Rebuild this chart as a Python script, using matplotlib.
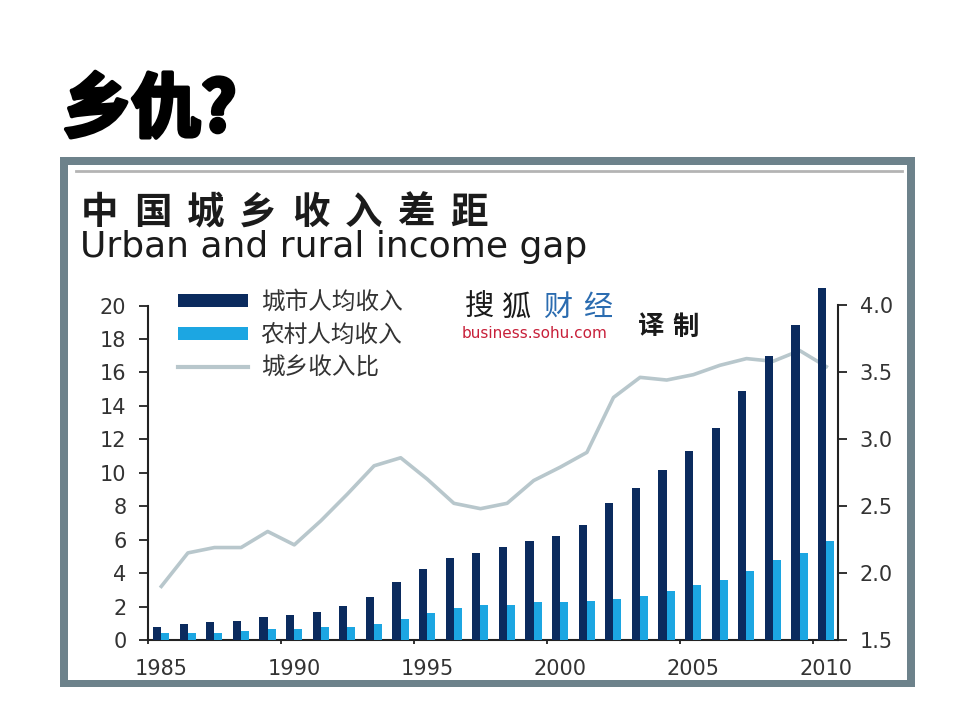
import matplotlib
matplotlib.use('Agg')
import matplotlib.pyplot as plt
import matplotlib.patheffects as pe
from matplotlib.patches import Rectangle, Patch
from matplotlib.lines import Line2D

plt.rcParams['font.family'] = ['DejaVu Sans', 'Noto Sans CJK SC']

# data (income in thousand yuan, ratio urban/rural)
years = list(range(1985, 2011))
urban = [0.75, 0.96, 1.09, 1.15, 1.39, 1.49, 1.69, 2.01, 2.55, 3.49,
         4.24, 4.90, 5.18, 5.54, 5.94, 6.24, 6.90, 8.17, 9.09, 10.17,
         11.32, 12.68, 14.91, 17.00, 18.84, 21.05]
rural = [0.42, 0.42, 0.42, 0.56, 0.64, 0.64, 0.75, 0.75, 0.96, 1.26,
         1.59, 1.89, 2.10, 2.11, 2.25, 2.25, 2.35, 2.43, 2.65, 2.95,
         3.31, 3.61, 4.14, 4.78, 5.18, 5.94]
ratio = [1.90, 2.15, 2.19, 2.19, 2.31, 2.21, 2.39, 2.59, 2.80, 2.86,
         2.70, 2.52, 2.48, 2.52, 2.69, 2.79, 2.90, 3.31, 3.46, 3.44,
         3.48, 3.55, 3.60, 3.58, 3.66, 3.54]
left_ticks = list(range(0, 21, 2))
right_ticks = [1.5, 2.0, 2.5, 3.0, 3.5, 4.0]
year_ticks = list(range(1985, 2011, 5))
labels = ['城市人均收入', '农村人均收入', '城乡收入比']

navy = '#0b2b5e'
light = '#1ca6e2'
grey_line = '#b8c7cc'
txt = '#333333'
W, H = 960, 720


def fx(x):
    return x / W


def fy(y):
    return 1 - y / H


fig = plt.figure(figsize=(9.6, 7.2), dpi=100)

# frame around the chart (kept below the axes)
fig.patches.append(Rectangle((fx(60), fy(687)), 855 / W, 530 / H, transform=fig.transFigure,
                             facecolor='#6d828b', edgecolor='none', zorder=-3))
fig.patches.append(Rectangle((fx(68), fy(680)), 839 / W, 515 / H, transform=fig.transFigure,
                             facecolor='white', edgecolor='none', zorder=-2))
fig.lines.append(Line2D([fx(76), fx(902)], [fy(171), fy(171)], transform=fig.transFigure,
                        color='#b4b4b4', lw=2, zorder=-1))

# big heading
fig.text(fx(62), fy(111), '乡仇?', fontsize=50, family='Noto Sans CJK SC', weight='heavy',
         va='center', color='black',
         path_effects=[pe.withStroke(linewidth=3, foreground='black')])

# chart titles
for i, ch in enumerate('中国城乡收入差距'):
    fig.text(fx(100 + i * 52.7), fy(212), ch, fontsize=27, family='Noto Sans CJK SC',
             weight='bold', ha='center', va='center', color='#1b1b1b')
fig.text(fx(80), fy(257), 'Urban and rural income gap', fontsize=26, va='baseline', color='#1b1b1b')

# sohu logo
for ch, cx, col in zip('搜狐财经', [479, 516, 559, 598], ['#1a1a1a', '#1a1a1a', '#2b6cb0', '#2b6cb0']):
    fig.text(fx(cx), fy(308), ch, fontsize=21, family='Noto Sans CJK SC', ha='center', va='center', color=col)
fig.text(fx(462), fy(334), 'business.sohu.com', fontsize=11, va='center', color='#c8203a')
for ch, cx in zip('译制', [651, 686]):
    fig.text(fx(cx), fy(327), ch, fontsize=19, family='Noto Sans CJK SC', weight='bold',
             ha='center', va='center', color='#1a1a1a')

# axes
ax = fig.add_axes([fx(148), 80 / H, 690 / W, 359.5 / H])
ax.set_xlim(1985, 1985 + 690 / 26.6)
ax.set_ylim(0, 21.5)
ax2 = ax.twinx()
ax2.set_ylim(1.5, 1.5 + 359.5 / 134)

ax.bar([y + 0.34 for y in years], urban, width=0.31, color=navy, clip_on=False, zorder=3)
ax.bar([y + 0.645 for y in years], rural, width=0.3, color=light, clip_on=False, zorder=3)
ax2.plot([y + 0.5 for y in years], ratio, color=grey_line, lw=2.6)

ax.set_zorder(ax2.get_zorder() + 1)
ax.patch.set_visible(False)

for s in ['top', 'right']:
    ax.spines[s].set_visible(False)
for s in ['top', 'left', 'bottom']:
    ax2.spines[s].set_visible(False)
ax.spines['left'].set_bounds(0, 20)
ax2.spines['right'].set_bounds(1.5, 4.0)
for sp in [ax.spines['left'], ax.spines['bottom'], ax2.spines['right']]:
    sp.set_linewidth(1.5)
    sp.set_color('#222222')

ax.set_yticks(left_ticks)
ax.tick_params(axis='y', direction='out', length=6.5, width=1.3, pad=9, labelsize=15,
               labelcolor=txt, color='#222222')
ax2.set_yticks(right_ticks)
ax2.set_yticklabels(['%.1f' % v for v in right_ticks])
ax2.tick_params(axis='y', direction='out', length=6.5, width=1.3, pad=9, labelsize=15,
                labelcolor=txt, color='#222222')

ax.set_xticks(year_ticks)
ax.set_xticklabels([])
ax.set_xticks([y + 0.5 for y in year_ticks], minor=True)
ax.set_xticklabels([str(y) for y in year_ticks], minor=True)
ax.tick_params(axis='x', which='major', direction='out', length=3, width=1.3, color='#222222')
ax.tick_params(axis='x', which='minor', length=0, pad=14, labelsize=15, labelcolor=txt)

handles = [Patch(facecolor=navy), Patch(facecolor=light), Line2D([], [], color=grey_line, lw=3)]
leg = ax.legend(handles, labels, loc='upper left', bbox_to_anchor=(fx(178), fy(291)),
                bbox_transform=fig.transFigure, frameon=False, borderpad=0, borderaxespad=0,
                handlelength=2.95, handleheight=0.5, handletextpad=0.55, labelspacing=0.42,
                prop={'family': 'Noto Sans CJK SC', 'size': 17})
for t in leg.get_texts():
    t.set_color(txt)

fig.savefig('out.png', dpi=100)
